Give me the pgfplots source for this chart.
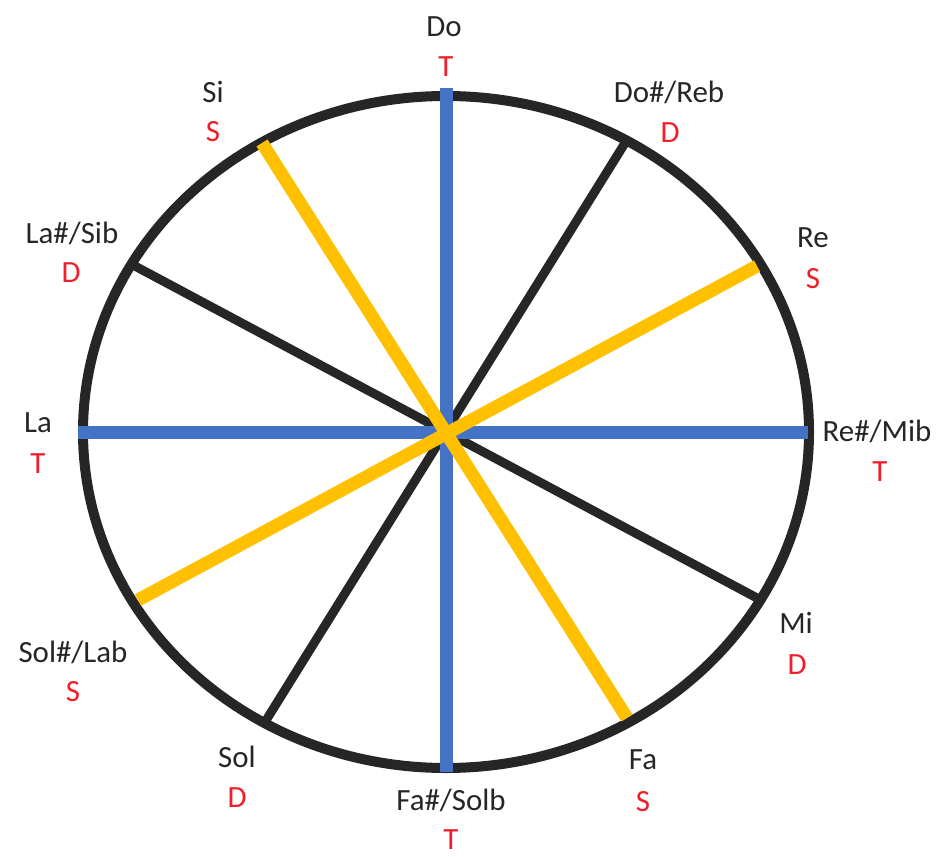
\documentclass[border=0pt]{standalone}
\usepackage{pgfplots}
\pgfplotsset{compat=1.18}
\usepackage{fontspec}
\setmainfont{Carlito}
\definecolor{cblue}{HTML}{4472C4}
\definecolor{cyellow}{HTML}{FFC000}
\definecolor{cdark}{HTML}{262626}
\definecolor{cred}{HTML}{F01E28}
\begin{document}
\begin{tikzpicture}[
  nm/.style={text=cdark, font=\fontsize{31}{36}\selectfont, inner sep=0pt},
  fn/.style={text=cred, font=\fontsize{31}{36}\selectfont, inner sep=0pt}]
\begin{axis}[
  width=942bp, height=857bp, scale only axis,
  xmin=0, xmax=942, ymin=0, ymax=857, y dir=reverse,
  hide axis, clip=false,
]
\path (rel axis cs:0,0) rectangle (rel axis cs:1,1);
% outer circle
\draw[cdark, line width=10bp] (axis cs:446,432) ellipse [x radius=363, y radius=336];
% black spokes
\addplot[cdark, line width=9bp] coordinates {(625,143) (265,722)};
\addplot[cdark, line width=9bp] coordinates {(133,265) (757,598)};
% blue spokes
\addplot[cblue, line width=13bp] coordinates {(446,88) (446,772)};
\addplot[cblue, line width=13bp] coordinates {(78,432) (808,432)};
% yellow spokes
\addplot[cyellow, line width=13bp] coordinates {(262,143) (627,718)};
\addplot[cyellow, line width=13bp] coordinates {(757,266) (138,600)};
% labels
\node[nm] at (axis cs:444,27) {Do};
\node[fn] at (axis cs:446,67) {T};
\node[nm] at (axis cs:669,92) {Do\#/Reb};
\node[fn] at (axis cs:670,133) {D};
\node[nm] at (axis cs:813,238) {Re};
\node[fn] at (axis cs:813,279) {S};
\node[nm] at (axis cs:877,431) {Re\#/Mib};
\node[fn] at (axis cs:880,472) {T};
\node[nm] at (axis cs:796,623) {Mi};
\node[fn] at (axis cs:797,665) {D};
\node[nm] at (axis cs:643,760) {Fa};
\node[fn] at (axis cs:643,802) {S};
\node[nm] at (axis cs:451,800) {Fa\#/Solb};
\node[fn] at (axis cs:451,840) {T};
\node[nm] at (axis cs:237,757) {Sol};
\node[fn] at (axis cs:237,798) {D};
\node[nm] at (axis cs:73,652) {Sol\#/Lab};
\node[fn] at (axis cs:73,692) {S};
\node[nm] at (axis cs:38,423) {La};
\node[fn] at (axis cs:38,464) {T};
\node[nm] at (axis cs:72,233) {La\#/Sib};
\node[fn] at (axis cs:71,273) {D};
\node[nm] at (axis cs:213,92) {Si};
\node[fn] at (axis cs:213,132) {S};
\end{axis}
\end{tikzpicture}
\end{document}
